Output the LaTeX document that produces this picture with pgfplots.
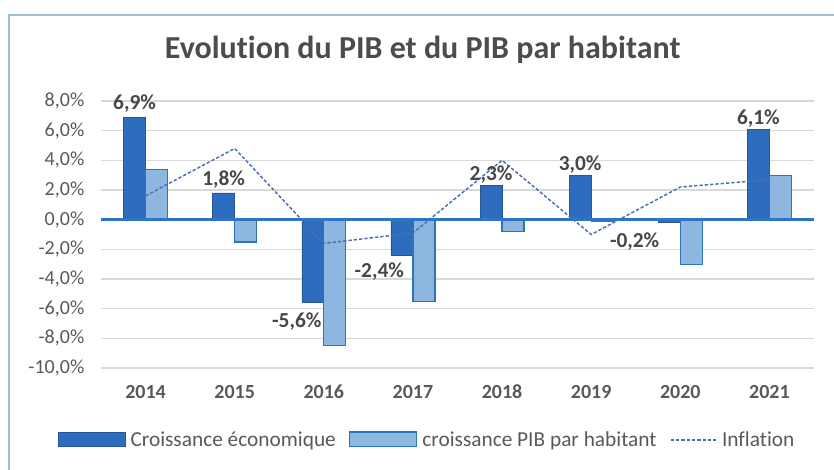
\documentclass[border=0pt]{standalone}
\usepackage{fontspec}
\setmainfont{Carlito}[Ligatures=NoCommon,Numbers=Lining]
\usepackage{pgfplots}
\usepackage{pgfplotstable}
\pgfplotsset{compat=1.18}

\definecolor{darkbar}{HTML}{2E6DBE}
\definecolor{lightbar}{HTML}{8DB6E0}
\definecolor{barline}{HTML}{2E75B6}
\definecolor{zeroline}{HTML}{2E75C6}
\definecolor{inflation}{HTML}{4A6FB8}
\definecolor{txt}{HTML}{595959}
\definecolor{frame}{HTML}{9CC0D8}

% dx, dy: label offsets (pt) for the labels of the first series
\pgfplotstableread{
x  croiss  hab   infl  dx   dy
0  6.9     3.4   1.6   0    0
1  1.8    -1.5   4.8   0    0
2 -5.6    -8.5  -1.6  -12  -4
3 -2.4    -5.5  -0.9  -17  -2
4  2.3    -0.8   4.0   0   -2
5  3.0    -0.1  -1.0   0   -2
6 -0.2    -3.0   2.2  -26  -4
7  6.1     3.0   2.7   0   -2
}\data

\begin{document}
\begin{tikzpicture}
\path[use as bounding box] (0,0) rectangle (625.5pt,352.5pt);
\draw[frame,line width=1.2pt] (6.75pt,0) -- (6.75pt,341.25pt) -- (625.5pt,341.25pt);
\node[font=\fontsize{24}{28}\selectfont\bfseries,text=txt!85!black] at (317pt,315pt) {Evolution du PIB et du PIB par habitant};
\begin{axis}[
  at={(75.75pt,76.5pt)}, anchor=south west,
  scale only axis,
  width=534.75pt, height=200.25pt,
  ybar=0pt, bar width=16.5pt,
  xmin=-0.5, xmax=7.5,
  ymin=-10, ymax=8,
  xtick={0,...,7},
  xticklabels={2014,2015,2016,2017,2018,2019,2020,2021},
  ytick={-10,-8,...,8},
  yticklabel={\pgfmathprintnumber[fixed,fixed zerofill,precision=1,use comma]{\tick}\%},
  /pgf/number format/assume math mode=true,
  yticklabel style={font=\fontsize{15}{18}\selectfont,text=txt,xshift=-9pt},
  xticklabel style={font=\fontsize{15}{18}\selectfont\bfseries,text=txt,
    anchor=base,yshift=-23pt},
  axis line style={draw=none},
  major tick length=0pt,
  ymajorgrids,
  grid style={draw=black!15,line width=0.9pt},
  legend style={at={(0.458,-0.27)},anchor=center,draw=none,fill=none,
    font=\fontsize{16}{19}\selectfont,text=txt,
    /tikz/every odd column/.append style={column sep=2pt},
    /tikz/every even column/.append style={column sep=8pt}},
  legend columns=3,
]
\addplot[fill=darkbar,draw=darkbar!80!black,
  legend image code/.code={\draw[fill=darkbar,draw=darkbar!80!black] (0pt,-5pt) rectangle (50pt,6pt);},
  nodes near coords={\pgfmathprintnumber[fixed,fixed zerofill,precision=1,use comma]{\pgfplotspointmeta}\%},
  visualization depends on={\thisrow{dx} \as \dx},
  visualization depends on={\thisrow{dy} \as \dy},
  every node near coord/.append style={font=\fontsize{16}{19}\selectfont\bfseries,text=txt!80!black,
    xshift=\dx pt, yshift=\dy pt},
  /pgf/number format/assume math mode=true,
] table[x=x,y=croiss] {\data};
\addlegendentry{Croissance économique}
\addplot[fill=lightbar,draw=barline,line width=0.9pt,
  legend image code/.code={\draw[fill=lightbar,draw=barline,line width=0.9pt] (0pt,-5pt) rectangle (50pt,6pt);},
] table[x=x,y=hab] {\data};
\addlegendentry{croissance PIB par habitant}
\draw[zeroline,line width=2.2pt] (axis cs:-0.5,0) -- (axis cs:7.5,0);
\addplot[sharp plot,inflation,line width=1.1pt,dash pattern=on 2.5pt off 1.5pt,
  legend image code/.code={\draw[inflation,line width=1.1pt,dash pattern=on 2.5pt off 1.5pt] (0pt,0pt) -- (34pt,0pt);},
] table[x=x,y=infl] {\data};
\addlegendentry{Inflation}
\end{axis}
\end{tikzpicture}
\end{document}
